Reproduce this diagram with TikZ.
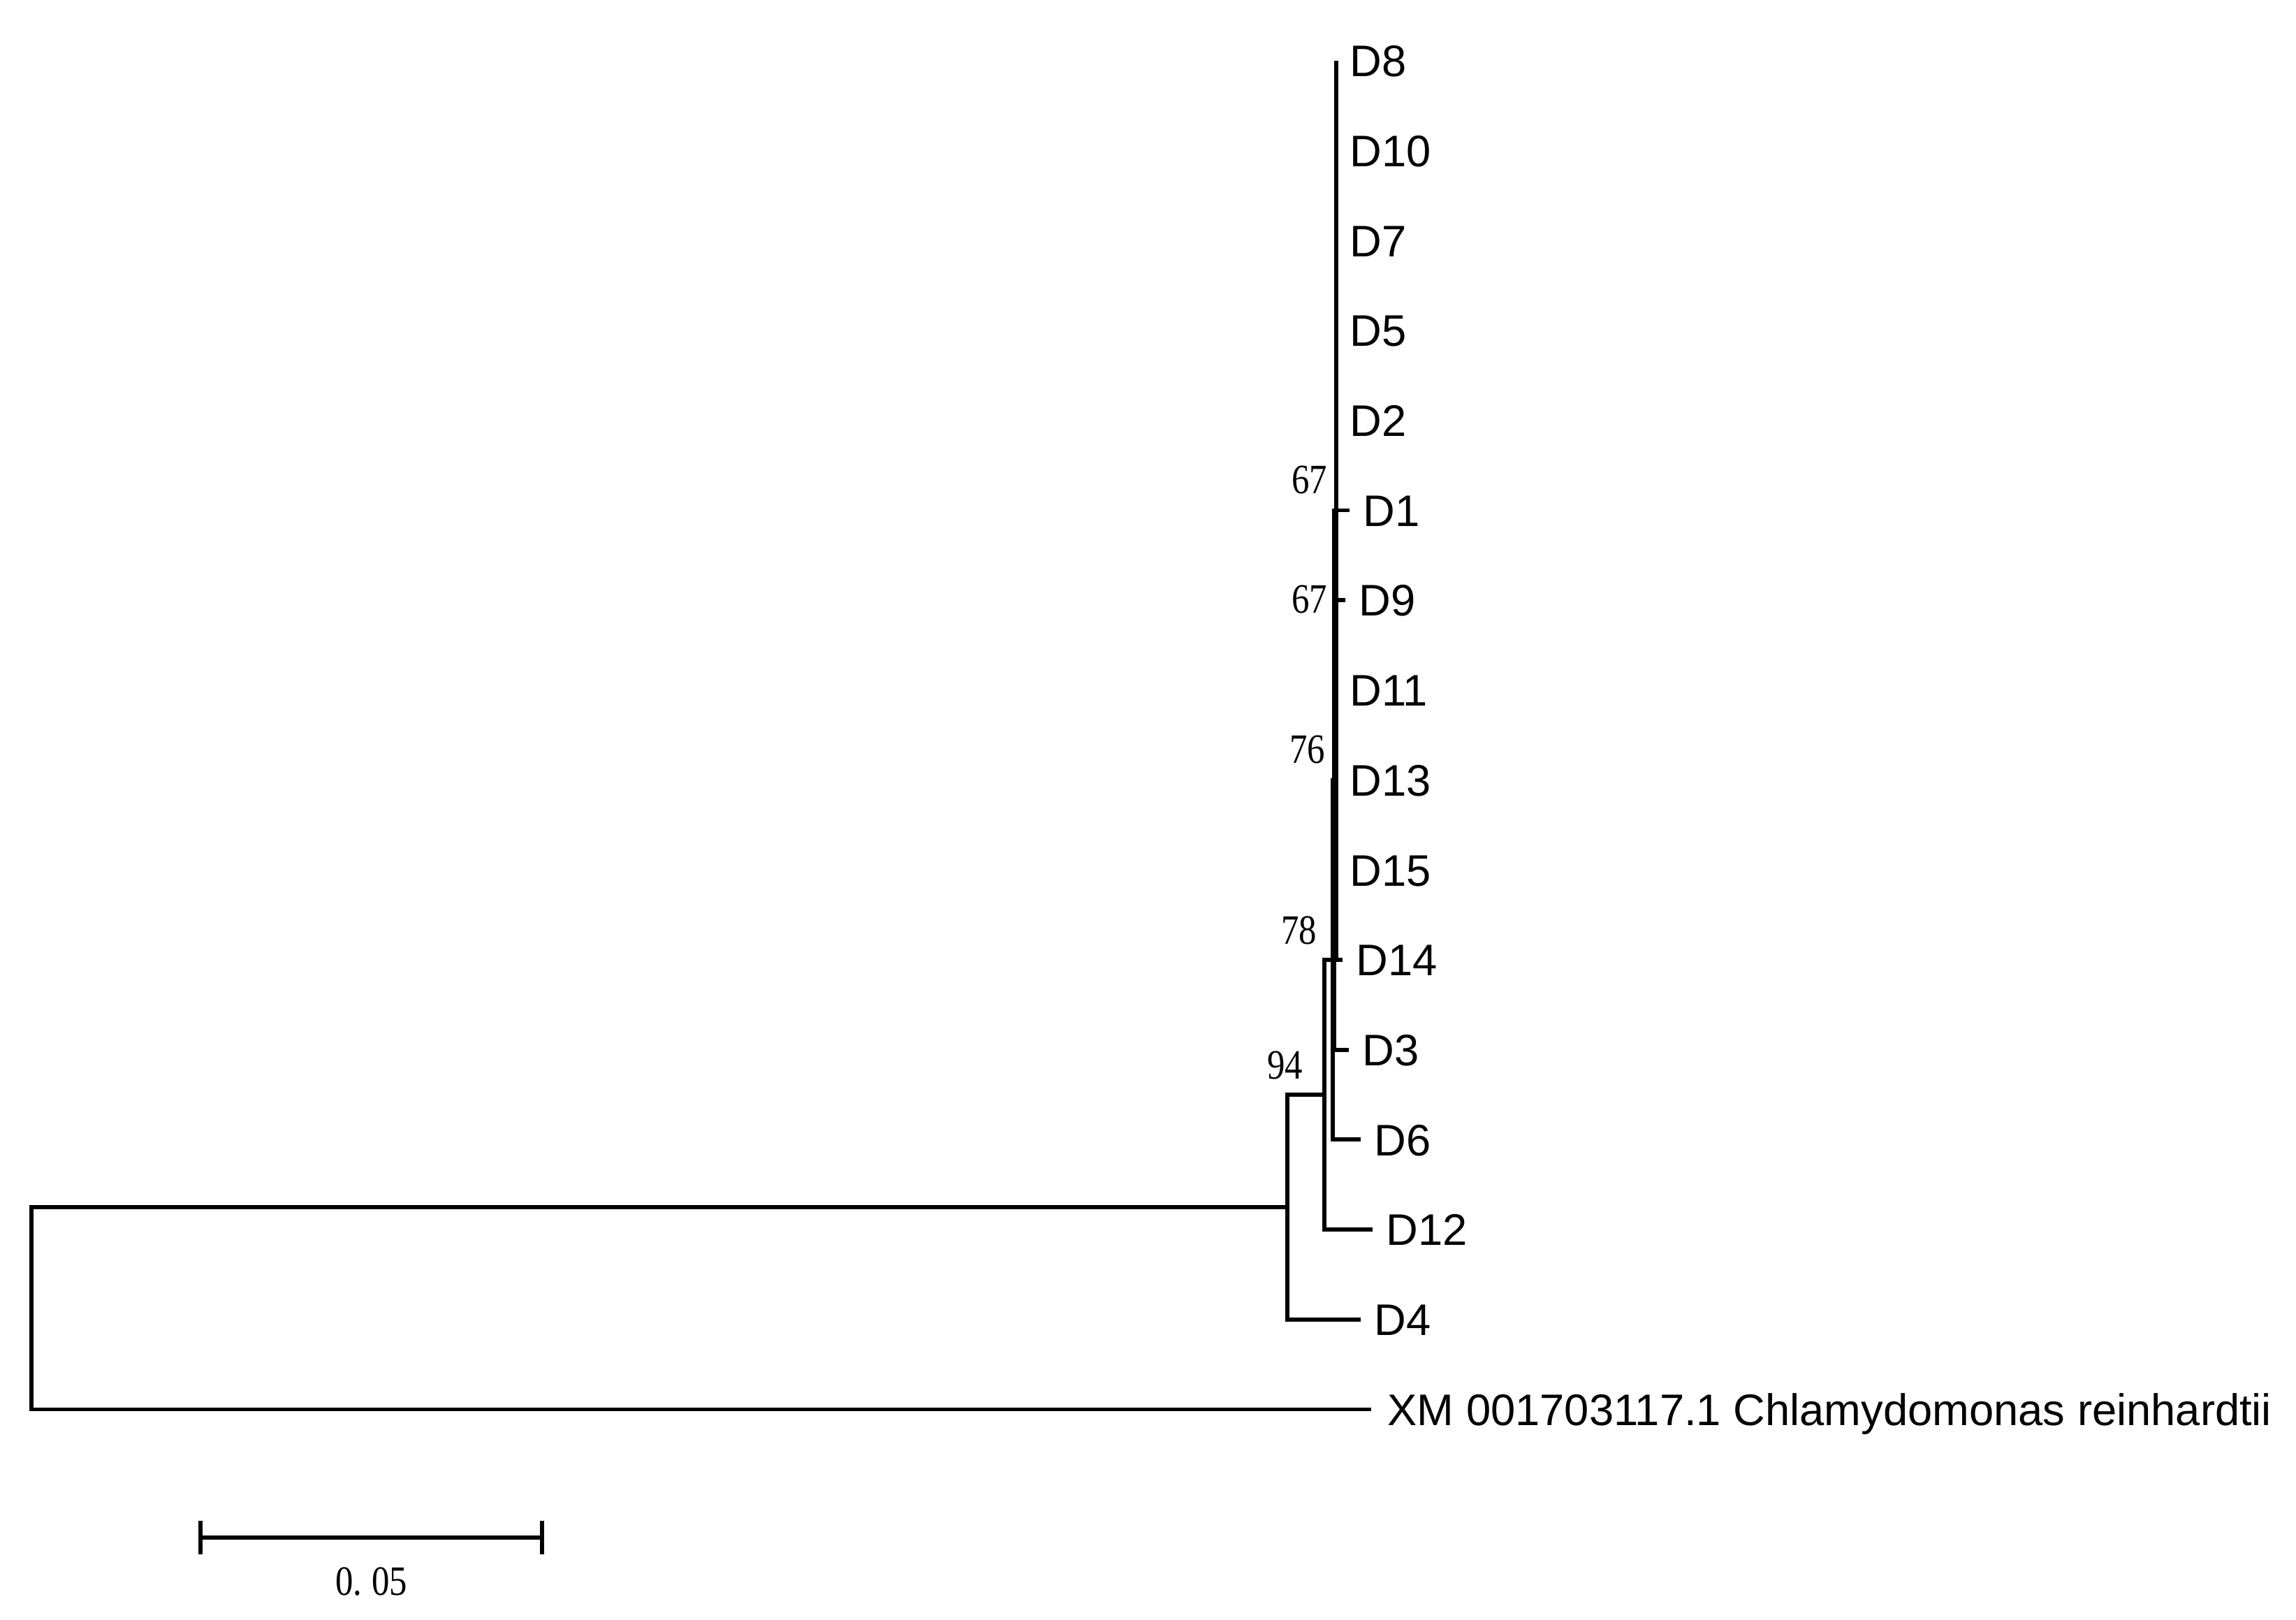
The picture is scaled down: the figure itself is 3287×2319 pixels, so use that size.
\documentclass[tikz,border=0pt]{standalone}
\usepackage{fontspec}
\setmainfont{Liberation Sans}
\newfontfamily\bsfont{Liberation Serif}
\begin{document}
\begin{tikzpicture}[x=0.01cm,y=-0.01cm,
  branch/.style={draw=black,line width=1.7pt},
  leaf/.style={anchor=base west,inner sep=0pt,font=\fontsize{18}{20}\selectfont},
  boot/.style={anchor=east,inner sep=0pt,font=\bsfont\fontsize{17}{19}\selectfont}]
\useasboundingbox (0,0) rectangle (3287,2319);
% internal nodes
\coordinate (R)   at (45,1872.75);
\coordinate (N94) at (1843,1728);
\coordinate (NA)  at (1895.5,1567);
\coordinate (N3)  at (1908,1374);
\coordinate (N2)  at (1910,1116.6);
\coordinate (N1)  at (1913,730.5);
% leaf tips
\coordinate (tD8)  at (1913,87);
\coordinate (tD10) at (1913,215.7);
\coordinate (tD7)  at (1913,344.4);
\coordinate (tD5)  at (1913,473.1);
\coordinate (tD2)  at (1913,601.8);
\coordinate (tD1)  at (1932,730.5);
\coordinate (tD9)  at (1926,859.2);
\coordinate (tD11) at (1913,987.9);
\coordinate (tD13) at (1913,1116.6);
\coordinate (tD15) at (1913,1245.3);
\coordinate (tD14) at (1922,1374);
\coordinate (tD3)  at (1931,1502.7);
\coordinate (tD6)  at (1948,1631.4);
\coordinate (tD12) at (1965,1760.1);
\coordinate (tD4)  at (1948,1888.8);
\coordinate (tXM)  at (1963,2017.5);
% branches
\draw[branch] (N94) -| (R) |- (tXM);
\draw[branch] (NA) -| (N94) |- (tD4);
\draw[branch] (N3) -| (NA) |- (tD12);
\draw[branch] (N2) -| (N3) |- (tD6);
\draw[branch] (N1) -| (N2) |- (tD3);
\draw[branch] (tD8) -- (N1) |- (tD14);
\draw[branch] (N1) -- (tD1);
\draw[branch] (N1 |- tD9) -- (tD9);
% leaf labels
\node[leaf] (lD8)  at ([shift={(19,22.7)}]tD8)  {D8};
\node[leaf] (lD10) at ([shift={(19,22.7)}]tD10) {D10};
\node[leaf] (lD7)  at ([shift={(19,22.7)}]tD7)  {D7};
\node[leaf] (lD5)  at ([shift={(19,22.7)}]tD5)  {D5};
\node[leaf] (lD2)  at ([shift={(19,22.7)}]tD2)  {D2};
\node[leaf] (lD1)  at ([shift={(19,22.7)}]tD1)  {D1};
\node[leaf] (lD9)  at ([shift={(19,22.7)}]tD9)  {D9};
\node[leaf] (lD11) at ([shift={(19,22.7)}]tD11) {D11};
\node[leaf] (lD13) at ([shift={(19,22.7)}]tD13) {D13};
\node[leaf] (lD15) at ([shift={(19,22.7)}]tD15) {D15};
\node[leaf] (lD14) at ([shift={(19,22.7)}]tD14) {D14};
\node[leaf] (lD3)  at ([shift={(19,22.7)}]tD3)  {D3};
\node[leaf] (lD6)  at ([shift={(19,22.7)}]tD6)  {D6};
\node[leaf] (lD12) at ([shift={(19,22.7)}]tD12) {D12};
\node[leaf] (lD4)  at ([shift={(19,22.7)}]tD4)  {D4};
\node[leaf] (lXM)  at ([shift={(23,22.7)}]tXM)  {XM 001703117.1 Chlamydomonas reinhardtii};
% bootstrap values
\node[boot] (b67a) at ([shift={(-12,-43.5)}]N1) {\scalebox{0.85}[1]{67}};
\node[boot] (b67b) at ([shift={(-12,127.5)}]N1) {\scalebox{0.85}[1]{67}};
\node[boot] (b76)  at ([shift={(-12,-43.6)}]N2) {\scalebox{0.85}[1]{76}};
\node[boot] (b78)  at ([shift={(-22,-42)}]N3)   {\scalebox{0.85}[1]{78}};
\node[boot] (b94)  at ([shift={(-29.5,-42)}]NA) {\scalebox{0.85}[1]{94}};
% scale bar
\coordinate (sbL) at (287,2200.6);
\coordinate (sbR) at (776,2200.6);
\draw[branch] (sbL) -- (sbR);
\draw[branch] ([yshift=0.24cm]sbL) -- ([yshift=-0.24cm]sbL);
\draw[branch] ([yshift=0.24cm]sbR) -- ([yshift=-0.24cm]sbR);
\node[inner sep=0pt,font=\bsfont\fontsize{17}{19}\selectfont] (sbLab) at (531.5,2264) {\scalebox{0.85}[1]{0.\kern.27em05}};
\end{tikzpicture}
\end{document}
